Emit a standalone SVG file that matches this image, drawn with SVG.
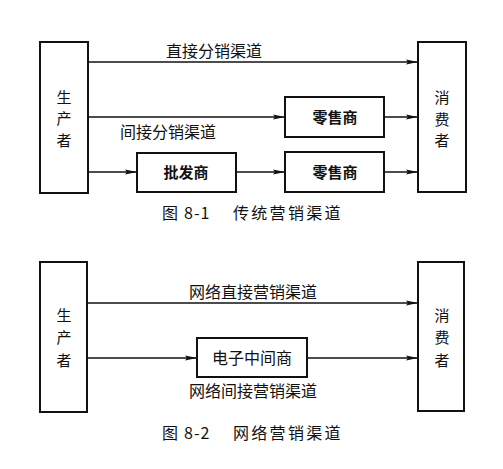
<svg xmlns="http://www.w3.org/2000/svg" width="503" height="469" viewBox="0 0 503 469">
<style>
.box{fill:#fff;stroke:#111;stroke-width:2}
.ln{stroke:#111;stroke-width:1.3;fill:none}
.t{font-family:"Noto Sans CJK SC","Noto Sans",sans-serif;fill:#111;font-size:15px}
.tb{font-family:"Noto Sans CJK SC","Noto Sans",sans-serif;fill:#111;font-size:15px;font-weight:bold}
.lbl{font-family:"Noto Sans CJK SC","Noto Sans",sans-serif;fill:#111;font-size:16px}
.cap{font-family:"Noto Sans CJK SC","Liberation Sans",sans-serif;fill:#111;font-size:16px}
</style>
<defs>
<marker id="ah" viewBox="0 0 12 6" refX="12" refY="3" markerWidth="12" markerHeight="6" markerUnits="userSpaceOnUse" orient="auto">
<path d="M0,0.5 L12,3 L0,5.5 L2,3 Z" fill="#111"/>
</marker>
</defs>
<g id="connectors">
<line class="ln" x1="88" y1="62" x2="418" y2="62" marker-end="url(#ah)"/>
<line class="ln" x1="88" y1="117" x2="285" y2="117" marker-end="url(#ah)"/>
<line class="ln" x1="384" y1="117" x2="418" y2="117" marker-end="url(#ah)"/>
<line class="ln" x1="88" y1="172" x2="137" y2="172" marker-end="url(#ah)"/>
<line class="ln" x1="236" y1="172" x2="285" y2="172" marker-end="url(#ah)"/>
<line class="ln" x1="384" y1="172" x2="418" y2="172" marker-end="url(#ah)"/>
<line class="ln" x1="88" y1="303" x2="418" y2="303" marker-end="url(#ah)"/>
<line class="ln" x1="88" y1="358" x2="197" y2="358" marker-end="url(#ah)"/>
<line class="ln" x1="307" y1="358" x2="418" y2="358" marker-end="url(#ah)"/>
<text class="lbl" x="214" y="57" text-anchor="middle">直接分销渠道</text>
<text class="lbl" x="168" y="138" text-anchor="middle">间接分销渠道</text>
<text class="lbl" x="253" y="298" text-anchor="middle">网络直接营销渠道</text>
<text class="lbl" x="253" y="397" text-anchor="middle">网络间接营销渠道</text>
</g>
<g id="producer1">
<rect class="box" x="40" y="42" width="48" height="151"/>
<text class="t" x="64" y="103" text-anchor="middle">生</text>
<text class="t" x="64" y="124" text-anchor="middle">产</text>
<text class="t" x="64" y="146" text-anchor="middle">者</text>
</g>
<g id="consumer1">
<rect class="box" x="418" y="42" width="48" height="150"/>
<text class="t" x="442" y="103" text-anchor="middle">消</text>
<text class="t" x="442" y="125" text-anchor="middle">费</text>
<text class="t" x="442" y="146" text-anchor="middle">者</text>
</g>
<g id="retailer1">
<rect class="box" x="285" y="97" width="99" height="40"/>
<text class="tb" x="335" y="122.5" text-anchor="middle">零售商</text>
</g>
<g id="wholesaler">
<rect class="box" x="137" y="153" width="99" height="39"/>
<text class="tb" x="186" y="178" text-anchor="middle">批发商</text>
</g>
<g id="retailer2">
<rect class="box" x="285" y="152" width="99" height="40"/>
<text class="tb" x="335" y="177.5" text-anchor="middle">零售商</text>
</g>
<g id="caption1">
<text class="cap" x="162" y="219">图</text>
<text class="cap" x="184" y="219" letter-spacing="1">8-1</text>
<text class="cap" x="233" y="219" letter-spacing="2.3">传统营销渠道</text>
</g>
<g id="producer2">
<rect class="box" x="40" y="262" width="47" height="150"/>
<text class="t" x="64" y="321" text-anchor="middle">生</text>
<text class="t" x="64" y="343" text-anchor="middle">产</text>
<text class="t" x="64" y="366" text-anchor="middle">者</text>
</g>
<g id="consumer2">
<rect class="box" x="418" y="262" width="46" height="149"/>
<text class="t" x="442" y="321" text-anchor="middle">消</text>
<text class="t" x="442" y="343" text-anchor="middle">费</text>
<text class="t" x="442" y="366" text-anchor="middle">者</text>
</g>
<g id="emediator">
<rect class="box" x="197" y="338" width="110" height="39"/>
<text class="lbl" x="252" y="363.5" text-anchor="middle">电子中间商</text>
</g>
<g id="caption2">
<text class="cap" x="162" y="439">图</text>
<text class="cap" x="184" y="439" letter-spacing="1">8-2</text>
<text class="cap" x="233" y="439" letter-spacing="2.3">网络营销渠道</text>
</g>
</svg>
